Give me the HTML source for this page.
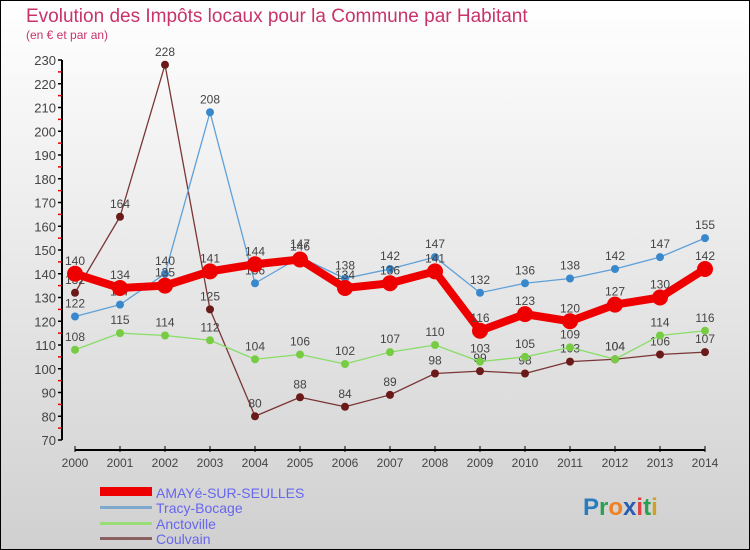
<!DOCTYPE html>
<html><head><meta charset="utf-8"><style>
body{margin:0;}
#wrap{position:relative;width:750px;height:550px;overflow:hidden;}
svg text{font-family:"Liberation Sans",sans-serif;}
</style></head><body>
<div id="wrap">
<svg id="chart" width="750" height="550">
<defs><linearGradient id="bg" x1="0" y1="0" x2="0" y2="1"><stop offset="0" stop-color="#ffffff"/><stop offset="1" stop-color="#d0d0d0"/></linearGradient></defs>
<rect x="0" y="0" width="750" height="550" fill="url(#bg)" stroke="#000" stroke-width="2"/>
<text x="26" y="22" font-size="19" fill="#c8336a">Evolution des Impôts locaux pour la Commune par Habitant</text>
<text x="26" y="39" font-size="12" fill="#c8336a">(en € et par an)</text>
<g id="axes"></g><g id="series"></g>
<g>
<rect x="100" y="487" width="52" height="9" fill="#ee0000"/>
<text x="156" y="498" font-size="14" fill="#6666ee">AMAYé-SUR-SEULLES</text>
<rect x="100" y="506" width="52" height="3" fill="#7fa9cc"/>
<text x="156" y="513" font-size="14" fill="#6666ee">Tracy-Bocage</text>
<rect x="100" y="522" width="52" height="3" fill="#99dd77"/>
<text x="156" y="529" font-size="14" fill="#6666ee">Anctoville</text>
<rect x="100" y="537" width="52" height="3" fill="#8b6060"/>
<text x="156" y="544" font-size="14" fill="#6666ee">Coulvain</text>
</g>
<text x="583" y="515" font-size="24" font-weight="bold"><tspan fill="#2a7cc0">P</tspan><tspan fill="#2aa050">r</tspan><tspan fill="#f08020">o</tspan><tspan fill="#2a5cb0">x</tspan><tspan fill="#e04040">i</tspan><tspan fill="#2aa050">t</tspan><tspan fill="#d0a020">i</tspan></text>
</svg></div>
<script>
const years=[2000,2001,2002,2003,2004,2005,2006,2007,2008,2009,2010,2011,2012,2013,2014];
const yTicks=[70,80,90,100,110,120,130,140,150,160,170,180,190,200,210,220,230];
const amaye=[140,134,135,141,144,146,134,136,141,116,123,120,127,130,142];
const tracy=[122,127,140,208,136,147,138,142,147,132,136,138,142,147,155];
const anctoville=[108,115,114,112,104,106,102,107,110,103,105,109,104,114,116];
const coulvain=[132,164,228,125,80,88,84,89,98,99,98,103,104,106,107];
const NS='http://www.w3.org/2000/svg';
const X=i=>75+i*45;
const Y=v=>440-(v-70)*2.375;
function mk(t,a,p){const e=document.createElementNS(NS,t);for(const k in a)e.setAttribute(k,a[k]);p.appendChild(e);return e;}
const ax=document.getElementById('axes');
const yl=mk('line',{x1:62,y1:Y(230),x2:62,y2:Y(70),stroke:'#000','stroke-width':2},ax);


yTicks.forEach(v=>{
 mk('line',{x1:58,y1:Y(v),x2:62,y2:Y(v),stroke:'#000','stroke-width':1.5},ax);
 if(v<230) mk('line',{x1:58,y1:Y(v+5),x2:62,y2:Y(v+5),stroke:'#e00','stroke-width':1.5},ax);
 const t=mk('text',{x:56,y:Y(v)+5,'font-size':13,fill:'#444','text-anchor':'end'},ax);
 
 
 t.textContent=v;
});
const xl=mk('line',{x1:75,y1:450,x2:705,y2:450,stroke:'#000','stroke-width':2},ax);


years.forEach((y,i)=>{
 mk('line',{x1:X(i),y1:446,x2:X(i),y2:452,stroke:'#000'},ax);
 const t=mk('text',{x:X(i),y:467,'font-size':12,fill:'#444','text-anchor':'middle'},ax);
 
 
 t.textContent=y;
});
const sg=document.getElementById('series');
function series(name,data,color,w,r,dot){
 const g=mk('g',{},sg);
 
 
 mk('polyline',{points:data.map((v,i)=>X(i)+','+Y(v)).join(' '),fill:'none',stroke:color,'stroke-width':w,'stroke-linejoin':'round'},g);
 data.forEach((v,i)=>{
  const c=mk('circle',{cx:X(i),cy:Y(v),r:r,fill:dot},g);
  
  
  const t=mk('text',{x:X(i),y:Y(v)-9,'font-size':12,fill:'#444','text-anchor':'middle'},g);
  
  
  t.textContent=v;
 });
}
series('coulvain',coulvain,'#7a3535',1.3,4,'#6b1a1a');
series('anctoville',anctoville,'#88dd66',1.3,4,'#77cc44');
series('tracy',tracy,'#5fa0d8',1.3,4,'#3a88cc');
series('amaye',amaye,'#ee0000',8,8,'#ee0000');
</script>
</body></html>
